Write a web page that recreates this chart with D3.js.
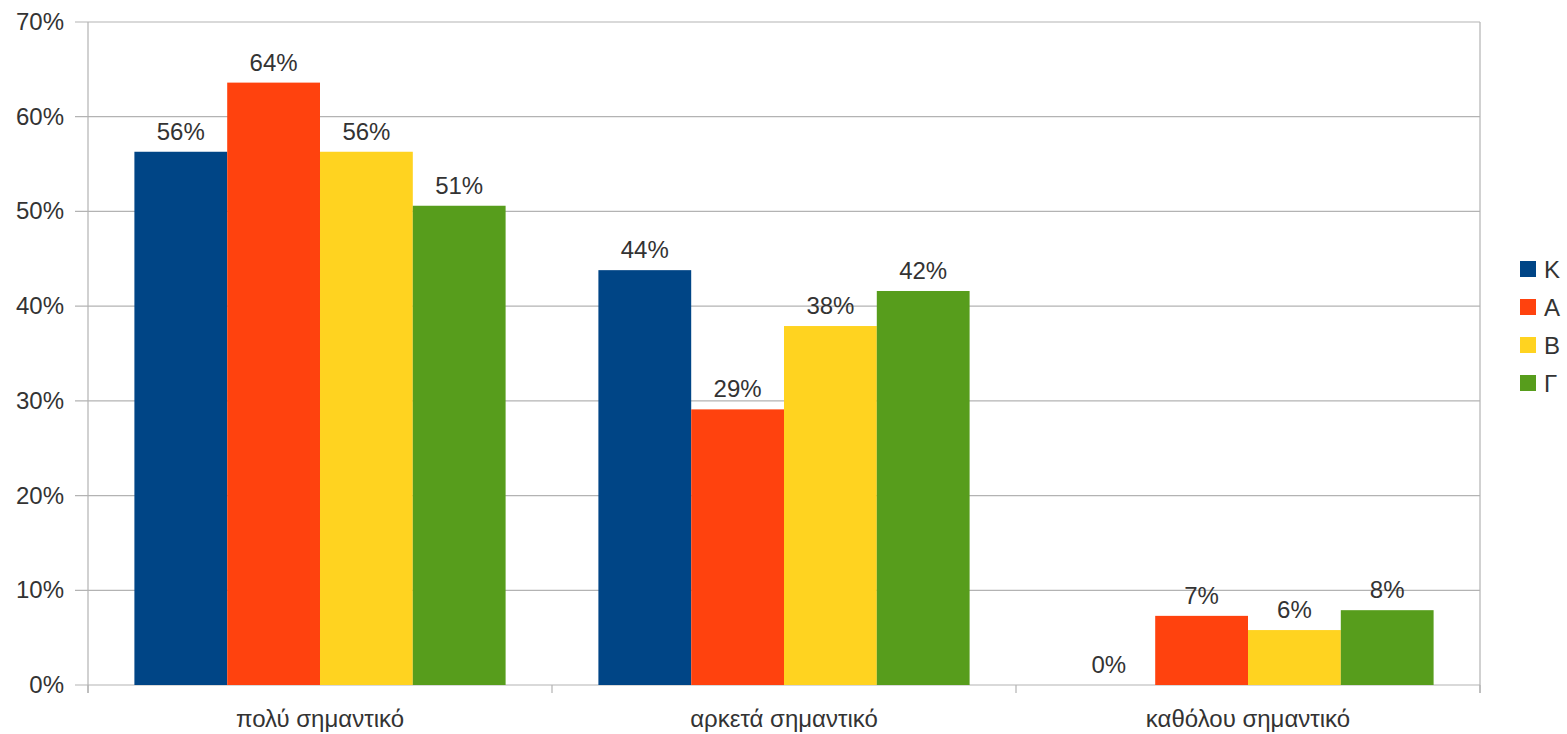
<!DOCTYPE html>
<html><head><meta charset="utf-8">
<script src="https://cdn.jsdelivr.net/npm/d3@7"></script>
<style>body{margin:0;background:#fff}svg{display:block}text{font-family:"Liberation Sans",Arial,sans-serif;fill:#333}</style>
</head><body><svg id="c" width="1567" height="734"></svg>
<script>
const categories = ["πολύ σημαντικό", "αρκετά σημαντικό", "καθόλου σημαντικό"];
const seriesNames = ["K", "A", "B", "Γ"];
const seriesColors = ["#004586", "#ff420e", "#ffd320", "#579d1c"];
const valuesK = [0.563, 0.438, 0.0];
const valuesA = [0.636, 0.291, 0.073];
const valuesB = [0.563, 0.379, 0.058];
const valuesG = [0.506, 0.416, 0.079];
const seriesValues = [valuesK, valuesA, valuesB, valuesG];
const yTicks = [0, 0.1, 0.2, 0.3, 0.4, 0.5, 0.6, 0.7];

const svg = d3.select("#c");
const L = 88, R = 1480, T = 22, B = 685;
const x0 = d3.scaleBand().domain(categories).range([L, R]).paddingInner(0).paddingOuter(0);
const x1 = d3.scaleBand().domain(seriesNames).range([0, x0.bandwidth()]).paddingInner(0).paddingOuter(0.5);
const y = d3.scaleLinear().domain([0, 0.7]).range([B, T]);

svg.append("g").selectAll("line").data(yTicks).join("line")
  .attr("x1", L - 13).attr("x2", R).attr("y1", d => y(d)).attr("y2", d => y(d))
  .attr("stroke", "#b3b3b3").attr("stroke-width", 1.2);
svg.append("line").attr("x1", L).attr("x2", L).attr("y1", T).attr("y2", B + 8).attr("stroke", "#b3b3b3").attr("stroke-width", 1.2);
svg.append("line").attr("x1", R).attr("x2", R).attr("y1", T).attr("y2", B + 8).attr("stroke", "#b3b3b3").attr("stroke-width", 1.2);
const bounds = [L, ...categories.map(c => x0(c) + x0.bandwidth())];
svg.append("g").selectAll("line").data(bounds).join("line")
  .attr("x1", d => d).attr("x2", d => d).attr("y1", B).attr("y2", B + 8)
  .attr("stroke", "#b3b3b3").attr("stroke-width", 1.2);

svg.append("g").selectAll("text").data(yTicks).join("text")
  .attr("x", 64).attr("y", d => y(d) + 8).attr("text-anchor", "end")
  .attr("font-size", 24).text(d => d3.format(".0%")(d));

const groups = svg.append("g").selectAll("g").data(categories).join("g")
  .attr("transform", c => `translate(${x0(c)},0)`);
seriesNames.forEach((s, si) => {
  groups.append("rect")
    .attr("x", x1(s)).attr("width", x1.bandwidth())
    .attr("y", (c, ci) => y(seriesValues[si][ci]))
    .attr("height", (c, ci) => B - y(seriesValues[si][ci]))
    .attr("fill", seriesColors[si]);
  groups.append("text")
    .attr("x", x1(s) + x1.bandwidth() / 2)
    .attr("y", (c, ci) => y(seriesValues[si][ci]) - 12)
    .attr("text-anchor", "middle").attr("font-size", 24)
    .text((c, ci) => d3.format(".0%")(seriesValues[si][ci]));
});

svg.append("g").selectAll("text").data(categories).join("text")
  .attr("x", c => x0(c) + x0.bandwidth() / 2).attr("y", 727)
  .attr("text-anchor", "middle").attr("font-size", 24).text(c => c);

const lg = svg.append("g").selectAll("g").data(seriesNames).join("g")
  .attr("transform", (d, i) => `translate(1520,${261 + i * 38})`);
lg.append("rect").attr("width", 16).attr("height", 16).attr("fill", (d, i) => seriesColors[i]);
lg.append("text").attr("x", 24).attr("y", 17).attr("font-size", 24).text(d => d);
</script></body></html>
